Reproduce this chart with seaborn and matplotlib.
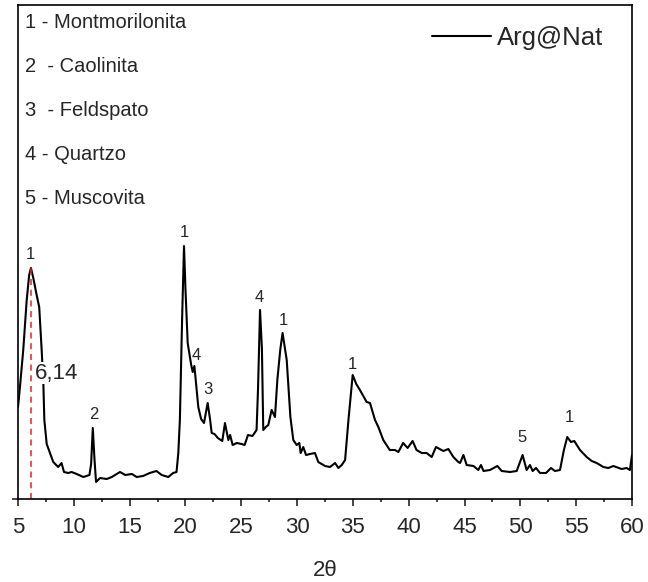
"""
DRX da argila natural (Arg@Nat) - recriação com seaborn
"""

import numpy as np
import pandas as pd
import matplotlib
matplotlib.use('Agg')
import matplotlib.pyplot as plt
import seaborn as sns

two_theta = [5.0, 5.15, 5.47, 5.78, 6.0, 6.16, 6.37, 6.67, 6.9, 7.03, 7.12, 7.27, 7.36,
             7.57, 7.87, 8.16, 8.6, 8.9, 9.12, 9.5, 9.8, 10.26, 10.85, 11.4, 11.55,
             11.7, 11.85, 11.99, 12.35, 12.95, 13.4, 14.14, 14.6, 15.2, 15.63, 16.2,
             16.8, 17.4, 17.87, 18.46, 18.9, 19.2, 19.36, 19.5, 19.7, 19.87, 20.0, 20.2,
             20.5, 20.65, 20.8, 21.0, 21.15, 21.4, 21.66, 21.99, 22.2, 22.35, 22.6, 22.9,
             23.3, 23.54, 23.84, 24.0, 24.23, 24.6, 25.03, 25.3, 25.6, 26.0, 26.37, 26.5,
             26.68, 26.85, 26.97, 27.2, 27.42, 27.72, 28.02, 28.23, 28.5, 28.7, 29.07,
             29.4, 29.66, 29.96, 30.2, 30.32, 30.55, 30.8, 31.16, 31.6, 31.9, 32.5, 32.95,
             33.4, 33.7, 34.0, 34.3, 34.6, 34.98, 35.3, 35.63, 36.23, 36.53, 36.98, 37.28,
             37.72, 38.3, 38.77, 39.07, 39.5, 39.9, 40.35, 40.7, 41.16, 41.6, 42.06,
             42.44, 43.1, 43.55, 44.0, 44.44, 44.6, 44.9, 45.19, 45.8, 46.23, 46.47, 46.7,
             47.28, 47.94, 48.33, 49.07, 49.67, 50.2, 50.56, 50.86, 51.1, 51.4, 51.76,
             52.3, 52.74, 53.1, 53.55, 53.9, 54.2, 54.53, 54.83, 55.34, 55.94, 56.39,
             56.84, 57.43, 57.88, 58.33, 59.07, 59.52, 59.81, 60.0]
intensity = [92, 109, 149, 199, 224, 231, 221, 204, 192, 166, 149, 116, 79,
             55, 46, 37, 32, 36, 27, 26, 27, 25, 22, 24, 35,
             71, 40, 17, 21, 20, 22, 27, 24, 25, 22, 23,
             26, 28, 24, 22, 26, 27, 46, 79, 180, 253, 210, 156,
             135, 127, 133, 110, 92, 80, 76, 96, 80, 66, 65, 61,
             58, 76, 59, 64, 54, 56, 55, 54, 64, 63, 69, 110,
             189, 150, 69, 72, 74, 89, 82, 119, 150, 166, 139,
             82, 59, 54, 56, 46, 52, 44, 45, 46, 37, 33, 32,
             36, 31, 34, 39, 79, 124, 115, 109, 97, 96, 79, 72,
             59, 49, 49, 47, 56, 51, 58, 49, 46, 46, 42,
             52, 48, 50, 42, 37, 36, 44, 34, 33, 29, 34, 28,
             29, 33, 28, 27, 28, 44, 29, 34, 28, 31, 26,
             26, 31, 28, 29, 49, 62, 57, 58, 49, 42, 38,
             36, 32, 31, 33, 30, 31, 29, 44]

# Identificação dos picos
peak_x = [6.15, 11.75, 19.9, 21.0, 22.0, 26.6, 28.75, 34.95, 50.15, 54.4]
peak_y = [237, 77, 259, 136, 102, 194, 171, 127, 54, 74]
peak_ids = ['1', '2', '1', '4', '3', '4', '1', '1', '5', '1']

minerals = ['1 - Montmorilonita', '2  - Caolinita', '3  - Feldspato',
            '4 - Quartzo', '5 - Muscovita']

d_peak = 6.14
d_peak_top = 231

df = pd.DataFrame({'2θ': two_theta, 'I': intensity})

sns.set_style('ticks')
plt.rcParams['font.family'] = ['Liberation Sans', 'DejaVu Sans']
plt.rcParams['axes.linewidth'] = 1.2

fig = plt.figure(figsize=(6.48, 5.82), dpi=100)
ax = fig.add_axes([18 / 648, 83 / 582, 614 / 648, 494 / 582])

sns.lineplot(data=df, x='2θ', y='I', color='black', linewidth=1.5,
             ax=ax, label='Arg@Nat')

# linha tracejada no primeiro pico
ax.plot([d_peak, d_peak], [0, d_peak_top], color='#e8241f', linestyle='--',
        linewidth=1.1, dashes=(4, 3))
ax.text(d_peak + 0.38, 126, '6,14', fontsize=16, va='center', ha='left',
        bbox=dict(facecolor='white', edgecolor='none', pad=0.5))

for x, y, s in zip(peak_x, peak_y, peak_ids):
    ax.text(x, y, s, fontsize=12, ha='center', va='bottom')

for i, m in enumerate(minerals):
    ax.text(0.012, 0.965 - i * 0.089, m, transform=ax.transAxes,
            fontsize=14.5, ha='left', va='center')

ax.set_xlim(5, 60)
ax.set_ylim(0, 494)
ax.set_xticks(np.arange(5, 61, 5))
ax.set_xticks(np.arange(7.5, 60, 5), minor=True)
ax.set_yticks([0])
ax.set_yticklabels([])
ax.tick_params(axis='x', which='major', length=5, width=1.2, labelsize=16, pad=8)
ax.tick_params(axis='x', which='minor', length=2.5, width=1.2)
ax.tick_params(axis='y', length=4, width=1.2)
ax.set_xlabel('2θ', fontsize=16, labelpad=16)
ax.set_ylabel('')

for sp in ax.spines.values():
    sp.set_visible(True)
    sp.set_color('black')

ax.legend(loc='upper right', bbox_to_anchor=(0.99, 1.004), frameon=False,
          fontsize=18.5, handlelength=2.3, handletextpad=0.2)

plt.savefig('out.png', dpi=100)
